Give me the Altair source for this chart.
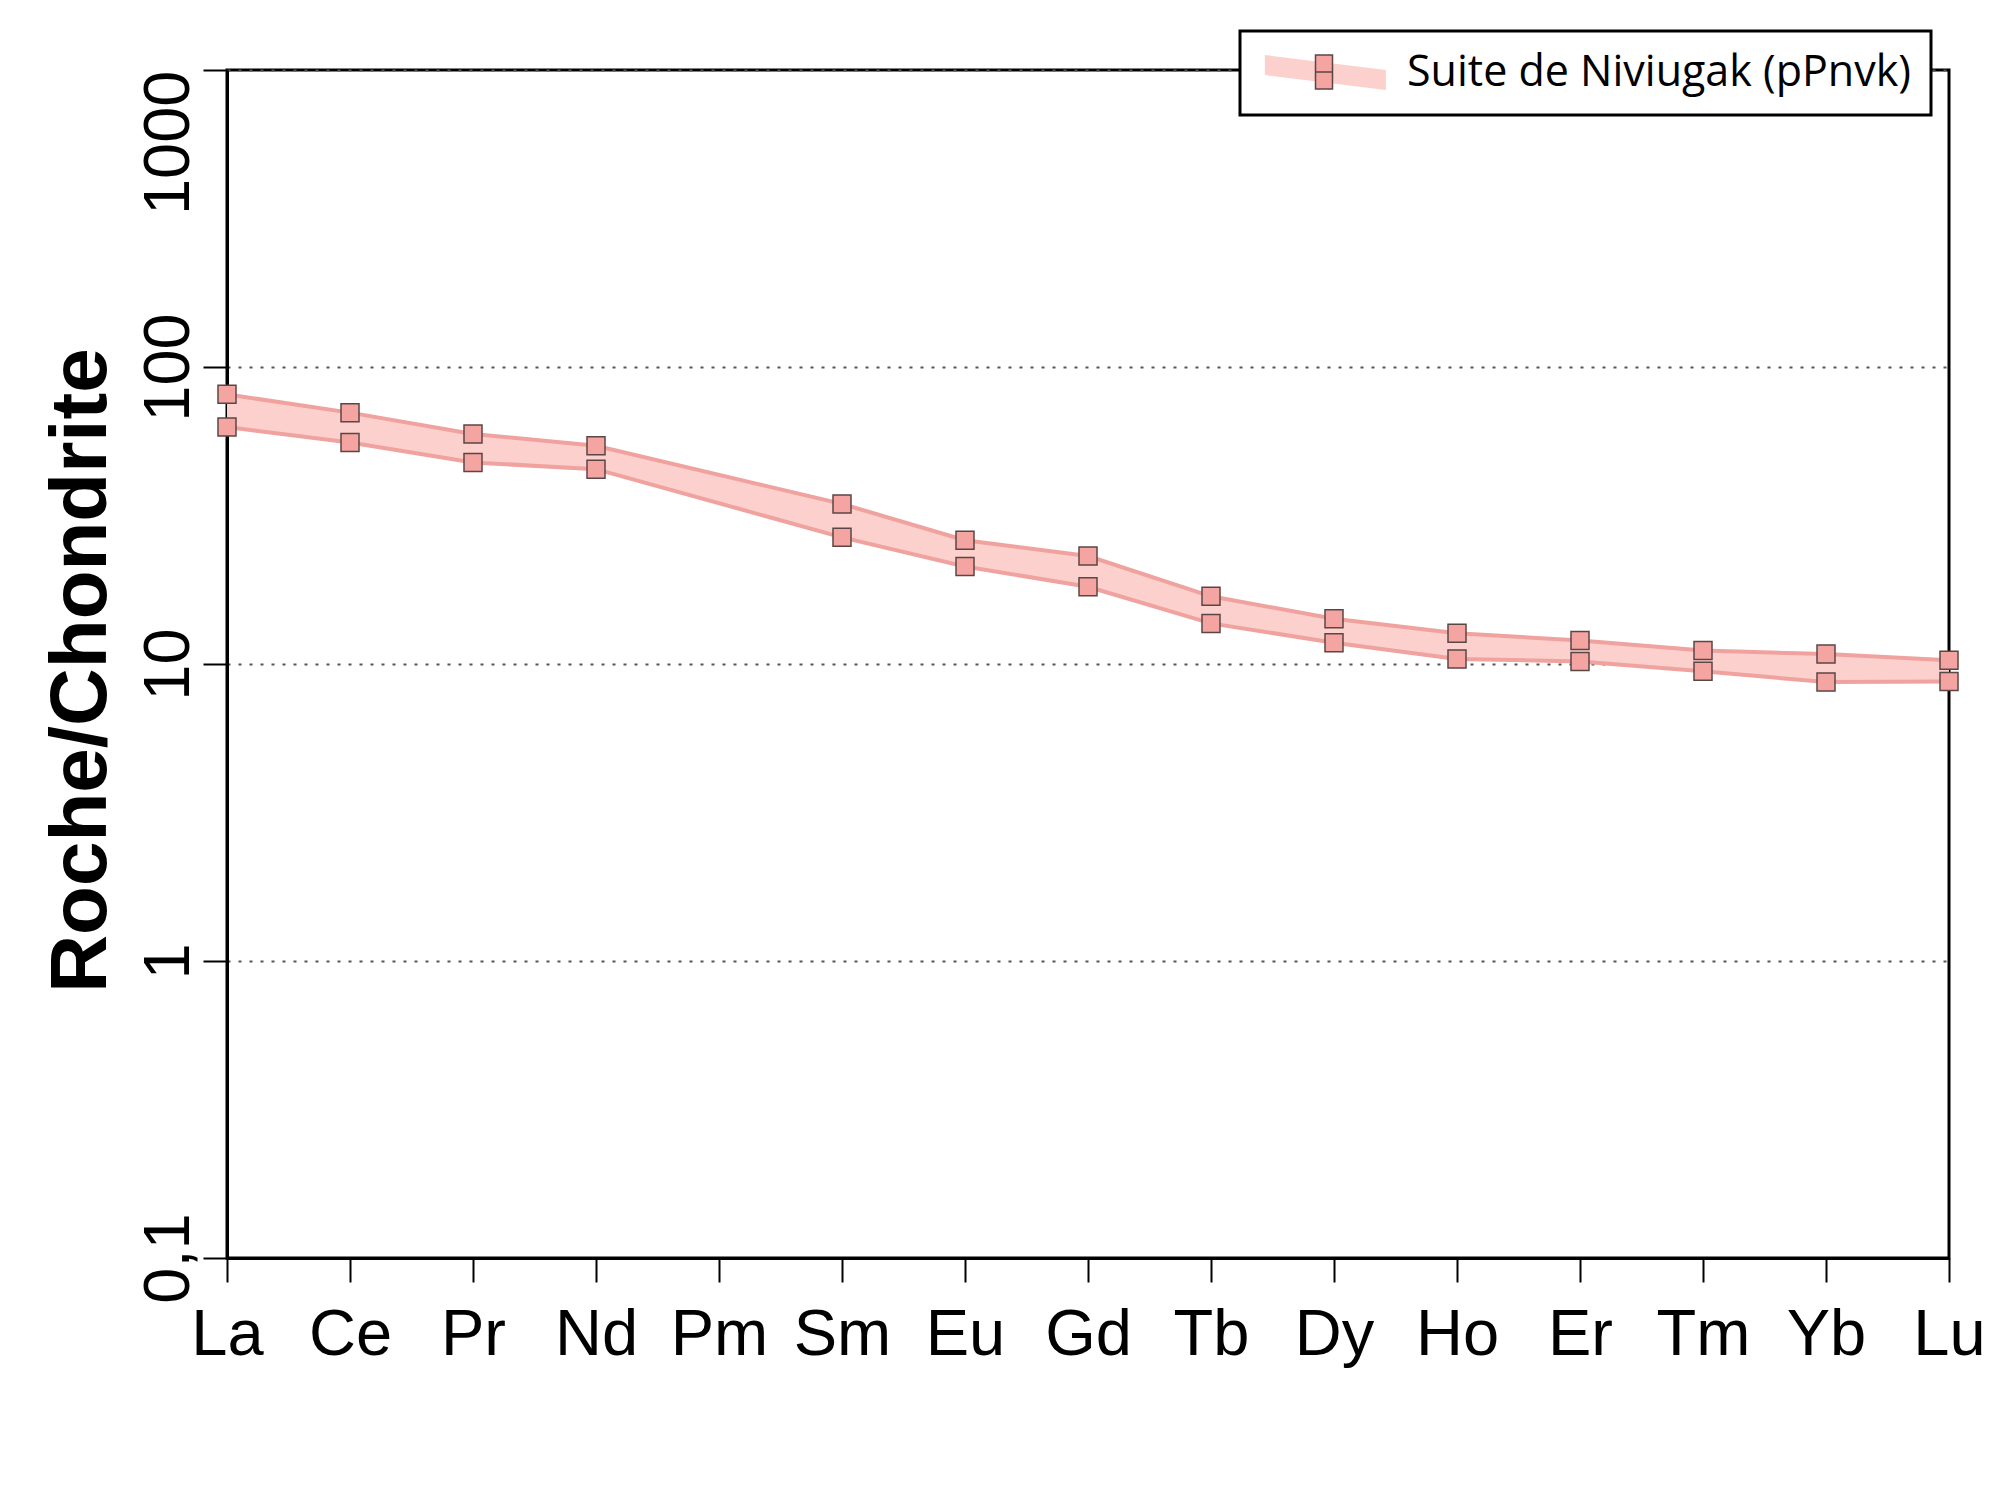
import altair as alt
import pandas as pd

# ---- data ----
elements = ["La", "Ce", "Pr", "Nd", "Pm", "Sm", "Eu", "Gd", "Tb", "Dy", "Ho", "Er", "Tm", "Yb", "Lu"]
measured = ["La", "Ce", "Pr", "Nd", "Sm", "Eu", "Gd", "Tb", "Dy", "Ho", "Er", "Tm", "Yb", "Lu"]
upper = [80.9, 70.2, 59.5, 54.3, 34.6, 26.1, 23.1, 16.9, 14.2, 12.7, 12.0, 11.1, 10.8, 10.3]
lower = [62.8, 55.7, 47.7, 45.3, 26.7, 21.3, 18.2, 13.7, 11.8, 10.4, 10.2, 9.45, 8.69, 8.73]
suite = "Suite de Niviugak (pPnvk)"
y_ticks = [0.1, 1, 10, 100, 1000]

band = pd.DataFrame({"element": measured, "upper": upper, "lower": lower, "suite": suite})
long = band.melt(id_vars=["element", "suite"], value_vars=["upper", "lower"],
                 var_name="edge", value_name="value")

BAND_FILL = "#fcd0cd"
EDGE = "#f0a29f"
PT_FILL = "#f4a4a1"
PT_STROKE = "#5b4646"

W, H = 1722, 1188

x_enc = alt.X(
    "element:N",
    sort=elements,
    scale=alt.Scale(type="point", domain=elements, padding=0),
    axis=alt.Axis(
        title=None, labelAngle=0, labelBaseline="top", labelAlign="center",
        labelPadding=21, tickSize=24, grid=False,
    ),
)

y_scale = alt.Scale(type="log", domain=[0.1, 1000], nice=False)
y_axis = alt.Axis(
    title="Roche/Chondrite",
    values=y_ticks,
    labelExpr="datum.value < 1 ? '0,1' : format(datum.value, 'd')",
    labelAngle=270,
    labelAlign={"condition": {"test": "datum.value >= 1000", "value": "right"}, "value": "center"},
    labelBaseline="alphabetic",
    labelPadding=15,
    tickSize=24,
    grid=True,
    gridDash=[3, 8],
    gridColor="#555555",
    gridWidth=1.8,
    titleFont="Liberation Sans",
    titleFontWeight="bold",
    titleFontSize=80,
    titleColor="black",
    titleAngle=270,
    titleAlign="center",
    titleBaseline="alphabetic",
    titleX=-122,
    titleY=600,
)

band_path = "M-0.98,-1.03L6.14,-0.15L6.14,1.03L-0.98,0.15Z"
squares_path = "M-0.5,-1H0.5V0H-0.5Z M-0.5,0H0.5V1H-0.5Z"

area = alt.Chart(band).mark_area(opacity=1, strokeWidth=0).encode(
    x=x_enc,
    y=alt.Y("upper:Q", scale=y_scale, axis=y_axis),
    y2="lower:Q",
    fill=alt.Fill(
        "suite:N",
        scale=alt.Scale(range=[BAND_FILL]),
        legend=alt.Legend(
            title=None, orient="none", legendX=1013, legendY=-39,
            symbolType=band_path, symbolSize=1156, symbolStrokeWidth=0,
            symbolOpacity=1, fillColor="white", strokeColor="black",
            padding=20, labelOffset=104, labelFont="Open Sans", labelFontSize=43,
            labelColor="black", labelLimit=0, zindex=1,
        ),
    ),
)

lines = alt.Chart(long).mark_line(color=EDGE, strokeWidth=4).encode(
    x=x_enc,
    y=alt.Y("value:Q", scale=y_scale),
    detail="edge:N",
)

points = alt.Chart(long).mark_point(
    shape="square", filled=True, size=324, opacity=1, stroke=PT_STROKE, strokeWidth=1.5
).encode(
    x=x_enc,
    y=alt.Y("value:Q", scale=y_scale),
    color=alt.Color(
        "suite:N",
        scale=alt.Scale(range=[PT_FILL]),
        legend=alt.Legend(
            title=None, orient="none", legendX=1079, legendY=-16,
            symbolType=squares_path, symbolSize=1156, symbolStrokeColor=PT_STROKE,
            symbolStrokeWidth=1.5, symbolOpacity=1, padding=0, labelExpr="''",
            labelFontSize=1, zindex=2,
        ),
    ),
)

chart = alt.layer(area, lines, points).properties(
    width=W, height=H,
    autosize=alt.AutoSizeParams(type="none"),
    padding={"left": 219, "top": 62, "right": 42, "bottom": 215},
).configure_view(
    stroke="black", strokeWidth=3
).configure_axis(
    domainColor="black", domainWidth=3, tickColor="black", tickWidth=2,
    labelFont="Liberation Sans", labelFontSize=65, labelColor="black",
).configure_legend(
    strokeWidth=3
)

chart.save("out.html", embed_options={"renderer": "svg", "actions": False})
